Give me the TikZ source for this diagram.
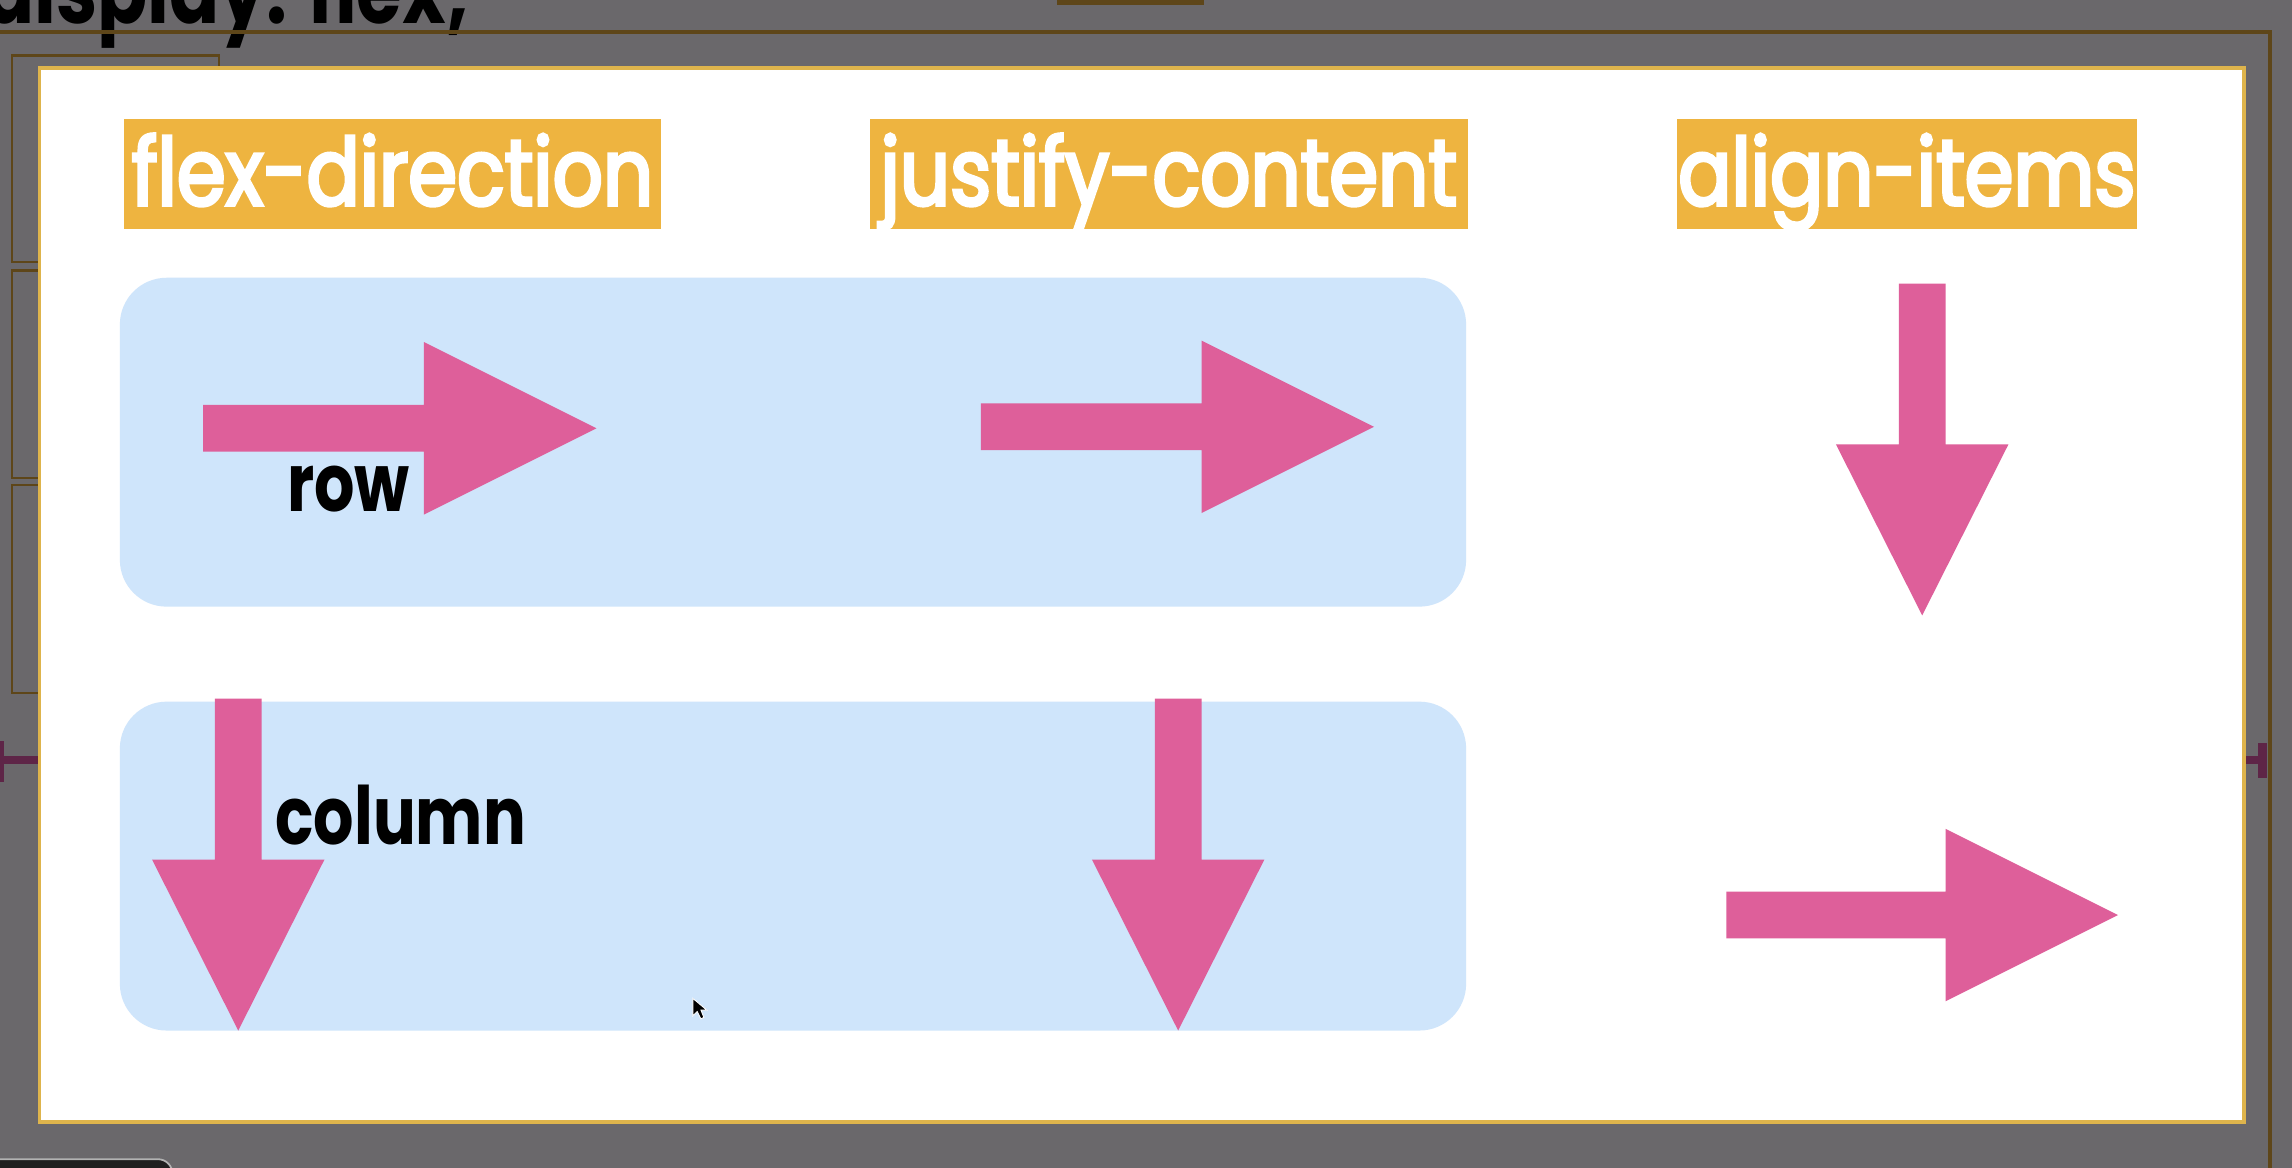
\documentclass[tikz,border=0pt]{standalone}
\usepackage{fontspec}
\setmainfont{Poppins}
\newfontfamily\labfont[FakeStretch=0.84, FakeBold=3.5]{Poppins}
\newfontfamily\blackfont[FakeStretch=0.79]{Poppins}
\definecolor{bggray}{HTML}{6A686B}
\definecolor{brownline}{HTML}{5E4619}
\definecolor{bluebox}{HTML}{CFE5FB}
\definecolor{pinkc}{HTML}{DE5F9A}
\definecolor{orangec}{HTML}{EEB440}
\definecolor{goldborder}{HTML}{DEB44C}
\definecolor{purplem}{HTML}{5E2547}
\newcommand{\pinkright}[4]{% x0, yc, xbase, xtip
  \fill[pinkc] (#1,#2-16) -- (#3,#2-16) -- (#3,#2-59) -- (#4,#2) -- (#3,#2+59) -- (#3,#2+16) -- (#1,#2+16) -- cycle;}
\newcommand{\pinkdown}[4]{% xc, y0, ybase, ytip
  \fill[pinkc] (#1-16,#2) -- (#1-16,#3) -- (#1-59,#3) -- (#1,#4) -- (#1+59,#3) -- (#1+16,#3) -- (#1+16,#2) -- cycle;}
\tikzset{
  headlabel/.style={fill=orangec, text=white, font=\labfont\fontsize{32}{36}\selectfont,
    inner xsep=0pt, inner ysep=6pt, text height=23.5pt, text depth=2pt, anchor=north},
  blacklabel/.style={text=black, font=\blackfont\bfseries\fontsize{27.5}{30}\selectfont, inner sep=0pt, anchor=base west},
  bluepanel/.style={fill=bluebox, rounded corners=16pt},
  oldbox/.style={draw=brownline, line width=0.75pt}
}
\begin{document}
\begin{tikzpicture}[x=0.5pt, y=-0.5pt]
\useasboundingbox (0,0) rectangle (1568,799);
\clip (0,0) rectangle (1568,799);
% background screenshot
\fill[bggray] (0,0) rectangle (1568,799);
\node[anchor=base west, inner sep=0, text=black, font=\blackfont\bfseries\fontsize{32}{34}\selectfont] (disp) at (-11,16) {display: flex;};
\draw[brownline, line width=1.3pt] (0,22) -- (1553,22) -- (1553,799);
\fill[brownline] (723,0) rectangle (824,3.5);
\draw[oldbox] (8,38) rectangle (150,179);
\draw[oldbox] (8,185) rectangle (150,327);
\draw[oldbox] (8,332) rectangle (150,474);
\fill[purplem] (0,517) rectangle (28,522.5);
\fill[purplem] (0,507) rectangle (3,535);
\fill[purplem] (1536,517) rectangle (1546,522.5);
\fill[purplem] (1545,508) rectangle (1551,532);
\draw[fill=black!88, draw=gray!60, line width=0.6pt, rounded corners=5pt] (-10,793) rectangle (118,830);
% white panel
\draw[fill=white, draw=goldborder, line width=1.3pt] (27,46.5) rectangle (1535,767.5);
% headings
\node[headlabel, minimum width=183.5pt] (fd) at (268.5,81) {flex-direction};
\node[headlabel, minimum width=204.5pt] (jc) at (799.5,81) {justify-content};
\node[headlabel, minimum width=157.5pt] (ai) at (1304.5,81) {align-items};
% blue panels
\fill[bluepanel] (82,190) rectangle (1003,415);
\fill[bluepanel] (82,480) rectangle (1003,705);
% arrows
\pinkright{139}{293}{290}{408}
\pinkright{671}{292}{822}{940}
\pinkdown{1315}{194}{304}{421}
\pinkdown{163}{478}{588}{705}
\pinkdown{806}{478}{588}{705}
\pinkright{1181}{626}{1331}{1449}
% labels
\node[blacklabel] (row) at (196,350) {row};
\node[blacklabel] (col) at (188,578) {column};
% mouse cursor
\fill[black, draw=white, line width=0.3pt] (474,683) -- (474,695) -- (477,692) -- (479.5,697) -- (481.5,696) -- (479.5,691) -- (483.5,691) -- cycle;
\end{tikzpicture}
\end{document}
